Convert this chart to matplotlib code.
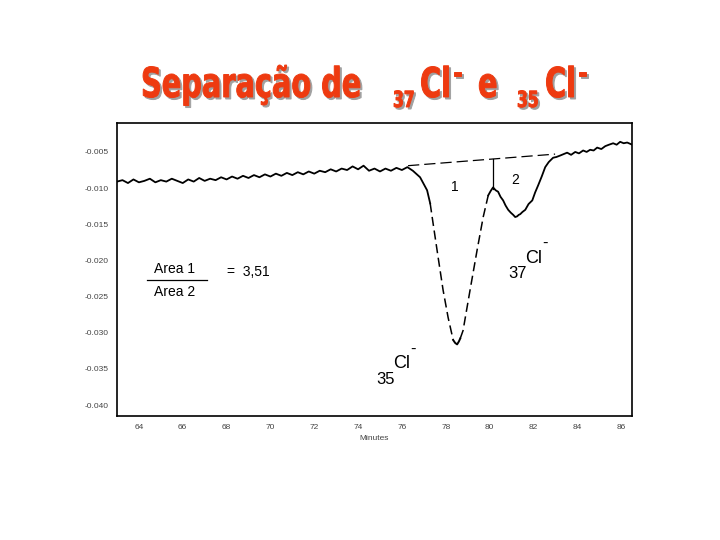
import matplotlib
matplotlib.use("Agg")
import matplotlib.pyplot as plt
from matplotlib.textpath import TextPath
from matplotlib.patches import PathPatch
from matplotlib.font_manager import FontProperties
from matplotlib.transforms import Affine2D

# chromatogram trace (minutes, signal)
base_min = [63.00, 63.25, 63.50, 63.75, 64.00, 64.25, 64.50, 64.75, 65.00, 65.25,
            65.50, 65.75, 66.00, 66.25, 66.50, 66.75, 67.00, 67.25, 67.50, 67.75,
            68.00, 68.25, 68.50, 68.75, 69.00, 69.25, 69.50, 69.75, 70.00, 70.25,
            70.50, 70.75, 71.00, 71.25, 71.50, 71.75, 72.00, 72.25, 72.50, 72.75,
            73.00, 73.25, 73.50, 73.75, 74.00, 74.25, 74.50, 74.75, 75.00, 75.25,
            75.50, 75.75, 76.00, 76.25, 76.50, 76.83, 77.15, 77.29]
base_val = [-0.0091, -0.0089, -0.0093, -0.0088, -0.0092, -0.0090, -0.0087, -0.0092, -0.0089, -0.0091,
            -0.0087, -0.0090, -0.0093, -0.0088, -0.0091, -0.0086, -0.0090, -0.0087, -0.0089, -0.0085,
            -0.0088, -0.0084, -0.0087, -0.0083, -0.0086, -0.0082, -0.0085, -0.0081, -0.0084, -0.0080,
            -0.0083, -0.0079, -0.0082, -0.0078, -0.0081, -0.0077, -0.0080, -0.0076, -0.0078, -0.0074,
            -0.0077, -0.0073, -0.0075, -0.0070, -0.0074, -0.0069, -0.0076, -0.0073, -0.0077, -0.0073,
            -0.0076, -0.0072, -0.0075, -0.0071, -0.0076, -0.0085, -0.0103, -0.0121]

# steep fall of the 35Cl peak (drawn dashed in the original)
fall_min = [77.29, 77.42, 77.65, 77.88, 78.11, 78.34]
fall_val = [-0.0121, -0.0148, -0.0195, -0.0241, -0.0279, -0.0310]

bottom_min = [78.34, 78.43, 78.52, 78.60, 78.66]
bottom_val = [-0.0310, -0.0314, -0.0316, -0.0312, -0.0308]

# steep rise back up (dashed)
rise_min = [78.66, 78.79, 79.11, 79.43, 79.71, 79.94]
rise_val = [-0.0308, -0.0297, -0.0241, -0.0186, -0.0140, -0.0110]

# 37Cl peak and the tail
tail_min = [79.94, 80.05, 80.16, 80.28, 80.39, 80.50, 80.62, 80.73, 80.85, 80.97,
            81.08, 81.17, 81.26, 81.33, 81.40, 81.50, 81.63, 81.78, 81.95, 82.08,
            82.22, 82.38, 82.54, 82.70, 82.90, 83.05, 83.22, 83.38, 83.54, 83.72,
            83.91, 84.08, 84.27, 84.43, 84.59, 84.75, 84.91, 85.10, 85.28, 85.45,
            85.64, 85.80, 85.96, 86.12, 86.28, 86.51]
tail_val = [-0.0110, -0.0104, -0.0099, -0.0103, -0.0105, -0.0112, -0.0117, -0.0124, -0.0130, -0.0134,
            -0.0137, -0.0140, -0.0139, -0.0137, -0.0136, -0.0133, -0.0130, -0.0122, -0.0117, -0.0106,
            -0.0096, -0.0084, -0.0071, -0.0064, -0.0058, -0.0057, -0.0055, -0.0053, -0.0051, -0.0054,
            -0.0050, -0.0052, -0.0048, -0.0050, -0.0047, -0.0048, -0.0044, -0.0046, -0.0042, -0.0040,
            -0.0038, -0.0040, -0.0036, -0.0038, -0.0037, -0.0040]

# baseline drawn under the two peaks, and the split line
tangent_min = [76.28, 82.99]
tangent_val = [-0.0069, -0.0053]
split_min = [80.16, 80.16]
split_val = [-0.0060, -0.0101]

x_ticks = [64, 66, 68, 70, 72, 74, 76, 78, 80, 82, 84, 86]
y_ticks = [-0.005, -0.010, -0.015, -0.020, -0.025, -0.030, -0.035, -0.040]

plt.rcParams['font.family'] = ['Liberation Sans', 'DejaVu Sans']

W, H = 720, 540
fig = plt.figure(figsize=(7.2, 5.4), dpi=100)
ax = fig.add_axes([117 / W, 1 - 416 / H, 515 / W, 293 / H])

ax.plot(base_min, base_val, color='black', lw=1.3)
ax.plot(fall_min, fall_val, color='black', lw=1.1, dashes=(6, 3))
ax.plot(bottom_min, bottom_val, color='black', lw=1.4)
ax.plot(rise_min, rise_val, color='black', lw=1.1, dashes=(6, 3))
ax.plot(tail_min, tail_val, color='black', lw=1.3)
ax.plot(tangent_min, tangent_val, color='black', lw=0.9, dashes=(9, 4))
ax.plot(split_min, split_val, color='black', lw=0.9)

ax.text(78.43, -0.0099, '1', fontsize=10, ha='center', va='center')
ax.text(81.17, -0.0089, '2', fontsize=10, ha='center', va='center')

ax.set_xlim(63.0, 86.5)
ax.set_ylim(-0.0415, -0.001)
ax.set_xticks(x_ticks)
ax.set_xticklabels([str(t) for t in x_ticks])
ax.set_yticks(y_ticks)
ax.set_yticklabels(['%.3f' % t for t in y_ticks])
ax.tick_params(length=0, labelsize=6, labelcolor='#444444', pad=6)
ax.set_xlabel('Minutes', fontsize=6, color='#444444', labelpad=3)
for s in ax.spines.values():
    s.set_linewidth(1.2)

# area ratio note
fig.text(175 / W, 1 - 269 / H, 'Area 1', fontsize=10, ha='center', va='center')
fig.text(175 / W, 1 - 292 / H, 'Area 2', fontsize=10, ha='center', va='center')
fig.add_artist(plt.Line2D([147 / W, 207 / W], [1 - 280 / H, 1 - 280 / H],
                          color='black', lw=0.9))
fig.text(227 / W, 1 - 272 / H, '=  3,51', fontsize=10, ha='left', va='center')

# isotope labels
fig.text(518 / W, 1 - 274 / H, '37', fontsize=12, ha='center', va='center')
fig.text(534 / W, 1 - 258 / H, 'Cl', fontsize=13, ha='center', va='center')
fig.text(545 / W, 1 - 243 / H, '-', fontsize=12, ha='center', va='center')
fig.text(386 / W, 1 - 379 / H, '35', fontsize=12, ha='center', va='center')
fig.text(402 / W, 1 - 364 / H, 'Cl', fontsize=13, ha='center', va='center')
fig.text(413 / W, 1 - 349 / H, '-', fontsize=12, ha='center', va='center')


# title: heavy condensed red letters with a grey drop shadow
# (no condensed font installed, so the glyph paths get squeezed sideways)
title_fp = FontProperties(family='DejaVu Sans', weight='bold')


def squeezed(s, px, py, size, sx=0.70, color='#EE3A10'):
    path = TextPath((0, 0), s, size=size, prop=title_fp)
    k = fig.dpi / 72
    for dx, dy, c in [(2, -2, '#a0a0a0'), (0, 0, color)]:
        tr = Affine2D().scale(sx * k, k).translate(px + dx, H - py + dy)
        fig.add_artist(PathPatch(path, transform=tr, facecolor=c, edgecolor=c, lw=0.7))


squeezed('Separação de', 141, 97, 29.6)
squeezed('37', 393, 107, 16)
squeezed('Cl', 420, 97, 29.6)
squeezed('-', 453, 83, 22)
squeezed('e', 478, 97, 29.6)
squeezed('35', 517, 107, 16)
squeezed('Cl', 545, 97, 29.6)
squeezed('-', 578, 83, 22)

fig.savefig('out.png', dpi=100)
